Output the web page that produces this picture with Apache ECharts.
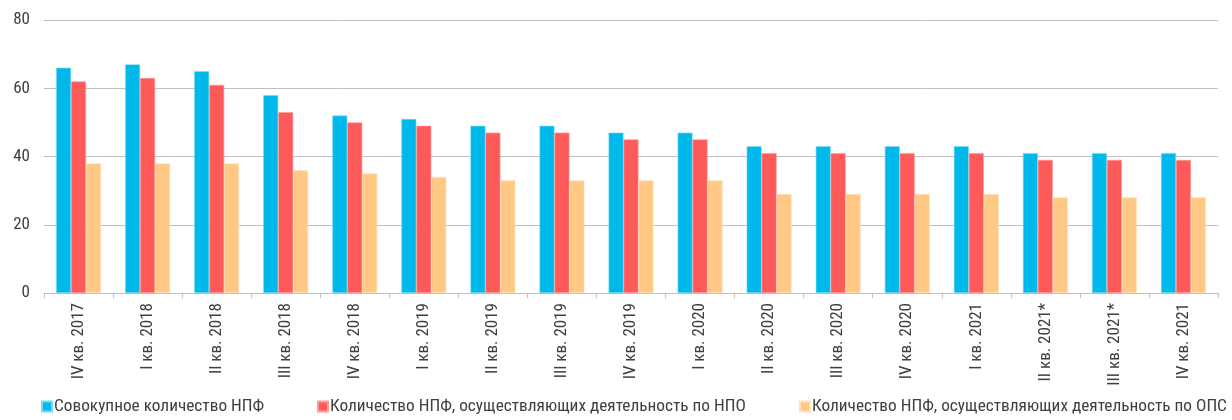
<!DOCTYPE html>
<html><head><meta charset="utf-8">
<script src="https://cdn.jsdelivr.net/npm/echarts@6/dist/echarts.min.js"></script>
<style>html,body{margin:0;padding:0;background:#fff}#c{width:1232px;height:420px}</style>
</head><body><div id="c"></div>
<script>
const categories = ["IV кв. 2017","I кв. 2018","II кв. 2018","III кв. 2018","IV кв. 2018","I кв. 2019","II кв. 2019","III кв. 2019","IV кв. 2019","I кв. 2020","II кв. 2020","III кв. 2020","IV кв. 2020","I кв. 2021","II кв. 2021*","III кв. 2021*","IV кв. 2021"];
const seriesNames = ["Совокупное количество НПФ","Количество НПФ, осуществляющих деятельность по НПО","Количество НПФ, осуществляющих деятельность по ОПС"];
const totalNPF = [66,67,65,58,52,51,49,49,47,47,43,43,43,43,41,41,41];
const npoNPF = [62,63,61,53,50,49,47,47,45,45,41,41,41,41,39,39,39];
const opsNPF = [38,38,38,36,35,34,33,33,33,33,29,29,29,29,28,28,28];
const yTicks = [0,20,40,60,80];

const colors = ["#00B9EB","#FF5A5A","#FFC985"];
const borders = ["#7FD8F3","#FF9C9C","#FFE0B8"];
const FONT = "'Liberation Sans Narrow','Roboto Condensed','Liberation Sans',sans-serif";
const chart = echarts.init(document.getElementById('c'));
const data = [totalNPF, npoNPF, opsNPF];
const legendLeft = [41, 317, 799];
chart.setOption({
  animation: false,
  color: colors,
  textStyle: {fontFamily: FONT},
  grid: {left: 44, right: 14, top: 20, bottom: 127, containLabel: false},
  legend: seriesNames.map((n, i) => ({
    data: [n], left: legendLeft[i], top: 398, padding: 0, itemWidth: 10, itemHeight: 10, itemGap: 4,
    icon: 'rect',
    textStyle: {fontFamily: FONT, fontSize: 17.3, color: '#404040', padding: [0,0,0,-3]}
  })),
  xAxis: {
    type: 'category', data: categories, boundaryGap: true,
    axisLine: {lineStyle: {color: '#BFBFBF', width: 1}},
    axisTick: {show: true, length: 5, lineStyle: {color: '#BFBFBF'}},
    axisLabel: {rotate: 90, fontSize: 17, color: '#404040', margin: 10, fontFamily: FONT, interval: 0}
  },
  yAxis: {
    type: 'value', min: yTicks[0], max: yTicks[yTicks.length-1], interval: 20,
    axisLine: {show: false}, axisTick: {show: false},
    splitLine: {lineStyle: {color: '#BFBFBF', width: 1}},
    axisLabel: {fontSize: 17, color: '#404040', margin: 14, fontFamily: FONT}
  },
  series: seriesNames.map((n, i) => ({
    name: n, type: 'bar', data: data[i], barGap: '0%', barCategoryGap: '35%',
    itemStyle: {color: colors[i], borderColor: borders[i], borderWidth: 0.6}
  }))
});
</script></body></html>
